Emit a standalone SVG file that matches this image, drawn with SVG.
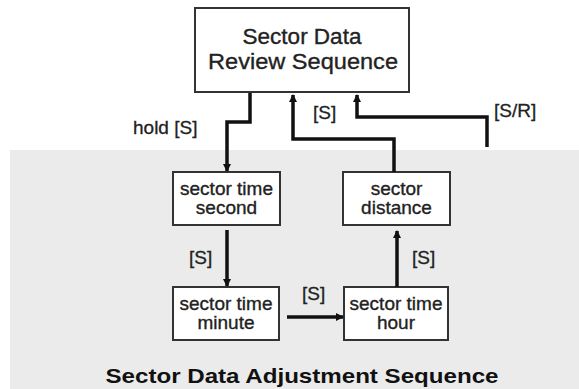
<svg xmlns="http://www.w3.org/2000/svg" width="579" height="389" viewBox="0 0 579 389">
<defs>
<marker id="ah" markerWidth="8" markerHeight="8" refX="7" refY="4" orient="auto" markerUnits="userSpaceOnUse">
<path d="M0,0 L8,4 L0,8 z" fill="#111"/>
</marker>
<style>
.box{fill:#fff;stroke:#333;stroke-width:2}
.t{font-family:"Liberation Sans",Arial,sans-serif;fill:#222;text-anchor:middle;stroke:#222;stroke-width:0.35}
.big{font-size:22.5px}
.node{font-size:19px}
.lbl{font-family:"Liberation Sans",Arial,sans-serif;font-size:19px;fill:#222;stroke:#222;stroke-width:0.3}
.c{fill:none;stroke:#111;stroke-width:3.5;marker-end:url(#ah)}
</style>
</defs>
<rect x="0" y="0" width="579" height="389" fill="#fff"/>
<rect x="10" y="150" width="569" height="239" fill="#ebebeb"/>
<g id="review">
<rect class="box" x="195" y="8" width="214" height="84"/>
<text class="t big" x="302" y="44">Sector Data</text>
<text class="t big" x="303" y="69" textLength="190" lengthAdjust="spacingAndGlyphs">Review Sequence</text>
</g>
<g id="second">
<rect class="box" x="173" y="172" width="107" height="53"/>
<text class="t node" x="226.5" y="195">sector time</text>
<text class="t node" x="226.5" y="214">second</text>
</g>
<g id="distance">
<rect class="box" x="343" y="172" width="107" height="53"/>
<text class="t node" x="396.5" y="195">sector</text>
<text class="t node" x="396.5" y="214">distance</text>
</g>
<g id="minute">
<rect class="box" x="173" y="287" width="106" height="53"/>
<text class="t node" x="226" y="310">sector time</text>
<text class="t node" x="226" y="329">minute</text>
</g>
<g id="hour">
<rect class="box" x="344" y="287" width="104" height="53"/>
<text class="t node" x="396" y="310">sector time</text>
<text class="t node" x="396" y="329">hour</text>
</g>
<g id="connectors">
<path class="c" d="M250,93 V122 H227 V171"/>
<path class="c" d="M394,172 V139 H293 V95"/>
<path class="c" d="M487,147 V117 H357 V95"/>
<path class="c" d="M227,230 V286"/>
<path class="c" d="M287,317 H343"/>
<path class="c" d="M397,287 V231"/>
</g>
<g id="labels">
<text class="lbl" x="133" y="134">hold [S]</text>
<text class="lbl" x="313" y="119">[S]</text>
<text class="lbl" x="494" y="117">[S/R]</text>
<text class="lbl" x="189" y="264">[S]</text>
<text class="lbl" x="302" y="300">[S]</text>
<text class="lbl" x="412" y="264">[S]</text>
</g>
<text x="302" y="383" font-family="'Liberation Sans',Arial,sans-serif" font-size="21" font-weight="bold" fill="#111" text-anchor="middle" textLength="393" lengthAdjust="spacingAndGlyphs">Sector Data Adjustment Sequence</text>
</svg>
